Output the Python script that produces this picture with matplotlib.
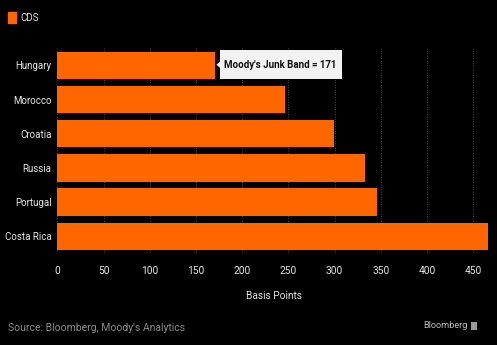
import matplotlib
matplotlib.use("Agg")
import matplotlib.pyplot as plt
from matplotlib.patches import Rectangle, Polygon
from matplotlib.font_manager import FontProperties

countries = ["Hungary", "Morocco", "Croatia", "Russia", "Portugal", "Costa Rica"]
cds = [171, 246, 299, 333, 346, 466]
xticks = [0, 50, 100, 150, 200, 250, 300, 350, 400, 450]
junk_band = 171
junk_label = "Moody's Junk Band = " + str(junk_band)

fp = lambda s, w="normal": FontProperties(family="Roboto", size=s, weight=w)

W, H = 497, 345
fig = plt.figure(figsize=(W / 100, H / 100), dpi=100, facecolor="black")
l, r, t, b = 57.3, 490, 48.3, 253.4
ax = fig.add_axes([l / W, 1 - b / H, (r - l) / W, (b - t) / H], facecolor="black")

orange = "#FF6600"
ypos = list(range(len(countries)))
ax.barh(ypos, cds, height=0.8, color=orange, zorder=2)
ax.set_ylim(len(countries) - 0.5, -0.5)
ax.set_xlim(0, 468)
ax.set_yticks(ypos)
ax.set_yticklabels(countries, fontproperties=fp(7.0))
ax.set_xticks(xticks)
ax.set_xticklabels([str(v) for v in xticks], fontproperties=fp(7.3))
ax.tick_params(axis="both", length=0, colors="#e6e6e6")
ax.tick_params(axis="x", pad=9)
ax.tick_params(axis="y", pad=4)
for s in ax.spines.values():
    s.set_visible(False)
ax.grid(axis="x", color="#4a4a4a", linestyle=(0, (1, 1.5)), linewidth=0.7, zorder=1)
ax.set_xlabel("Basis Points", color="#e6e6e6", fontproperties=fp(7.3), labelpad=11)

# annotation box with small pointer
px = (ax.transData.transform((1, 0))[0] - ax.transData.transform((0, 0))[0])
txt = ax.text(junk_band + 9 / px, -0.02, junk_label, va="center", ha="left",
              fontproperties=fp(7.0, "bold"), color="#111111", zorder=4)
fig.canvas.draw()
bb = txt.get_window_extent()
x_right = ax.transData.inverted().transform((bb.x1 + 5, 0))[0]
box_left = junk_band + 5 / px
ax.add_patch(Rectangle((box_left, -0.445), x_right - box_left, 0.85,
                       facecolor="#f2f2f2", edgecolor="none", zorder=3))
ax.add_patch(Polygon([(junk_band + 1 / px, -0.02), (box_left, -0.12), (box_left, 0.08)],
                     closed=True, facecolor="#f2f2f2", edgecolor="none", zorder=3))

fig.patches.append(Rectangle((8 / W, 1 - 23 / H), 8 / W, 11 / H,
                             transform=fig.transFigure, color=orange))
fig.text(20 / W, 1 - 18 / H, "CDS", color="#e6e6e6", fontproperties=fp(7.0),
         va="center", ha="left")

fig.text(8 / W, 1 - 328 / H, "Source: Bloomberg, Moody's Analytics", color="#8c8c8c",
         fontproperties=fp(7.5), va="center", ha="left")
fig.text(468 / W, 1 - 326 / H, "Bloomberg", color="#bdbdbd", fontproperties=fp(6.6),
         va="center", ha="right")
fig.patches.append(Rectangle((471 / W, 1 - 330 / H), 6 / W, 8 / H,
                             transform=fig.transFigure, facecolor="#9a9a9a",
                             edgecolor="none"))

fig.savefig("out.png", dpi=100, facecolor="black")
